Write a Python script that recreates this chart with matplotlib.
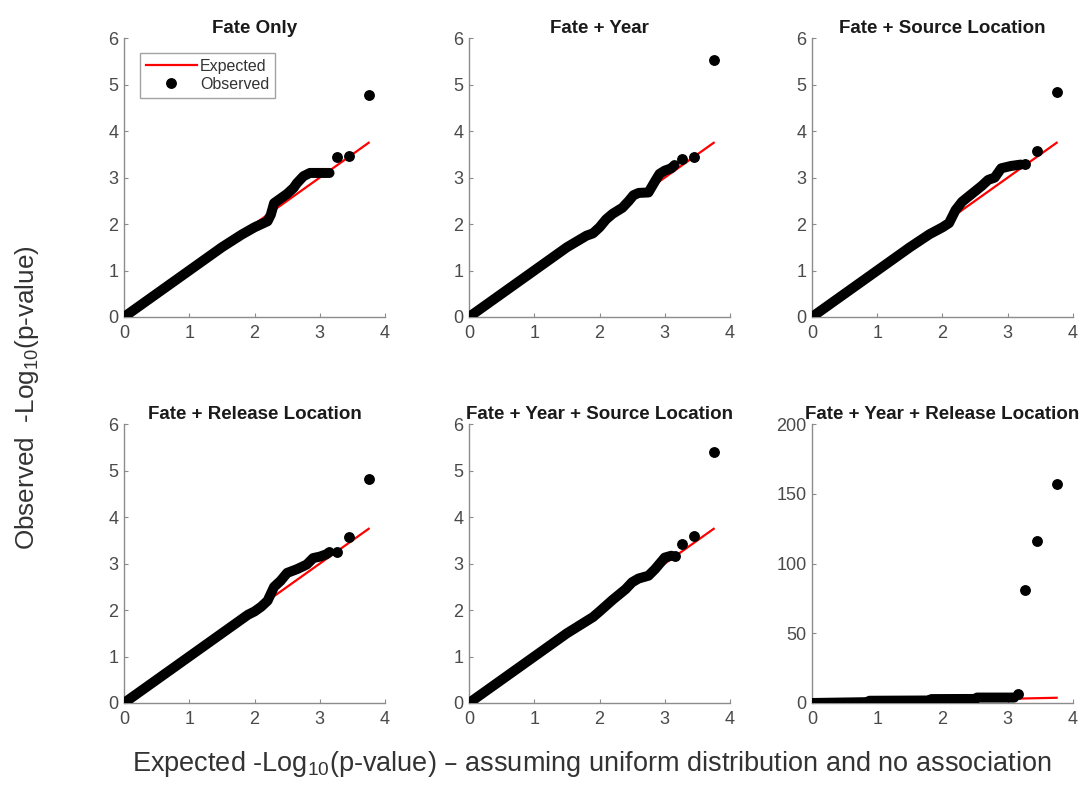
import matplotlib
matplotlib.use("Agg")
import matplotlib.pyplot as plt
from matplotlib.lines import Line2D

plt.rcParams['font.family'] = ['Liberation Sans', 'DejaVu Sans']
plt.rcParams['mathtext.default'] = 'regular'

titles = ["Fate Only", "Fate + Year", "Fate + Source Location",
          "Fate + Release Location", "Fate + Year + Source Location",
          "Fate + Year + Release Location"]

# Expected reference line (x = y) end points
expected_line = [0.0, 3.75]

# Dense part of observed QQ points (expected, observed)
band_x = [
    [0, 0.5, 1.0, 1.5, 1.8, 2.0, 2.2, 2.25, 2.3, 2.4, 2.5, 2.6, 2.65, 2.75, 2.85, 3.0, 3.15],
    [0, 0.5, 1.0, 1.5, 1.8, 1.9, 2.0, 2.1, 2.2, 2.35, 2.45, 2.52, 2.6, 2.75, 2.85, 2.92, 3.0, 3.1, 3.15],
    [0, 1.0, 1.5, 1.8, 2.0, 2.1, 2.2, 2.3, 2.45, 2.6, 2.7, 2.8, 2.9, 3.05, 3.2],
    [0, 1.0, 1.5, 1.9, 2.0, 2.1, 2.2, 2.3, 2.4, 2.5, 2.65, 2.8, 2.9, 3.0, 3.1, 3.15],
    [0, 1.0, 1.5, 1.9, 2.0, 2.2, 2.4, 2.5, 2.6, 2.75, 2.85, 3.0, 3.1],
    [0, 0.85, 0.88, 1.8, 1.83, 2.5, 2.53, 3.1],
]
band_y = [
    [0, 0.5, 1.0, 1.5, 1.77, 1.93, 2.06, 2.2, 2.45, 2.55, 2.65, 2.78, 2.88, 3.03, 3.1, 3.1, 3.1],
    [0, 0.5, 1.0, 1.5, 1.75, 1.8, 1.93, 2.1, 2.22, 2.35, 2.5, 2.62, 2.67, 2.68, 2.92, 3.08, 3.15, 3.2, 3.27],
    [0, 1.0, 1.5, 1.78, 1.93, 2.02, 2.3, 2.48, 2.65, 2.82, 2.95, 3.0, 3.2, 3.25, 3.28],
    [0, 1.0, 1.5, 1.9, 1.97, 2.07, 2.2, 2.5, 2.63, 2.8, 2.88, 2.98, 3.12, 3.15, 3.2, 3.25],
    [0, 1.0, 1.5, 1.85, 1.97, 2.22, 2.45, 2.6, 2.68, 2.74, 2.88, 3.13, 3.17],
    [0, 0.6, 1.6, 1.8, 2.8, 2.9, 3.9, 3.9],
]

# Largest individual observed points (expected, observed)
tail_x = [
    [3.27, 3.45, 3.75],
    [3.27, 3.45, 3.75],
    [3.27, 3.45, 3.75],
    [3.27, 3.45, 3.75],
    [3.15, 3.27, 3.45, 3.75],
    [3.15, 3.27, 3.45, 3.75],
]
tail_y = [
    [3.44, 3.46, 4.78],
    [3.39, 3.45, 5.53],
    [3.30, 3.57, 4.84],
    [3.24, 3.57, 4.82],
    [3.17, 3.42, 3.60, 5.41],
    [6.4, 81.0, 116.0, 157.0],
]

y_ticks = [[0, 1, 2, 3, 4, 5, 6]] * 5 + [[0, 50, 100, 150, 200]]
x_ticks = [0, 1, 2, 3, 4]

fig = plt.figure(figsize=(10.86, 7.93), dpi=100)

lefts = [0.1142, 0.4319, 0.7477]
bottoms = [0.6003, 0.1135]
w, h = 0.2403, 0.3515

axis_col = '#8c8c8c'
tick_col = '#4a4a4a'

for i in range(6):
    r, c = divmod(i, 3)
    ax = fig.add_axes([lefts[c], bottoms[r], w, h])
    ax.plot(expected_line, expected_line, color='#ff0000', lw=1.6, zorder=2)
    ax.plot(band_x[i], band_y[i], color='black', lw=7.2, solid_capstyle='round',
            solid_joinstyle='round', zorder=3)
    ax.plot(tail_x[i], tail_y[i], 'o', color='black', ms=6.8, zorder=4)
    ax.set_xlim(0, 4)
    ax.set_ylim(y_ticks[i][0], y_ticks[i][-1])
    ax.set_xticks(x_ticks)
    ax.set_yticks(y_ticks[i])
    for s in ['top', 'right']:
        ax.spines[s].set_visible(False)
    for s in ['left', 'bottom']:
        ax.spines[s].set_color(axis_col)
        ax.spines[s].set_linewidth(1.0)
    ax.tick_params(direction='in', length=3, width=0.8, color=axis_col,
                   labelsize=13, labelcolor=tick_col)
    ax.tick_params(axis='x', pad=6)
    ax.tick_params(axis='y', pad=4)
    ax.set_title(titles[i], fontsize=13.5, fontweight='bold', color='#1a1a1a', pad=4)
    if i == 0:
        handles = [Line2D([], [], color='#ff0000', lw=1.6),
                   Line2D([], [], marker='o', ls='none', color='black', ms=6.8)]
        leg = ax.legend(handles, ['Expected', 'Observed'], loc='upper left',
                        bbox_to_anchor=(0.061, 0.946), borderaxespad=0,
                        fontsize=11.5, frameon=True, fancybox=False,
                        handlelength=3.2, handletextpad=0.2, borderpad=0.35,
                        labelspacing=0.2)
        leg.get_frame().set_edgecolor('#8c8c8c')
        leg.get_frame().set_linewidth(1.0)
        for t in leg.get_texts():
            t.set_color('#333333')

fig.text(0.545, 0.018,
         'Expected -Log$_{10}$(p-value) – assuming uniform distribution and no association',
         ha='center', va='bottom', fontsize=19.5, color='#333333')
fig.text(0.025, 0.499, 'Observed  -Log$_{10}$(p-value)', rotation=90,
         ha='center', va='center', fontsize=18.8, color='#333333')

fig.savefig('out.png', dpi=100)
